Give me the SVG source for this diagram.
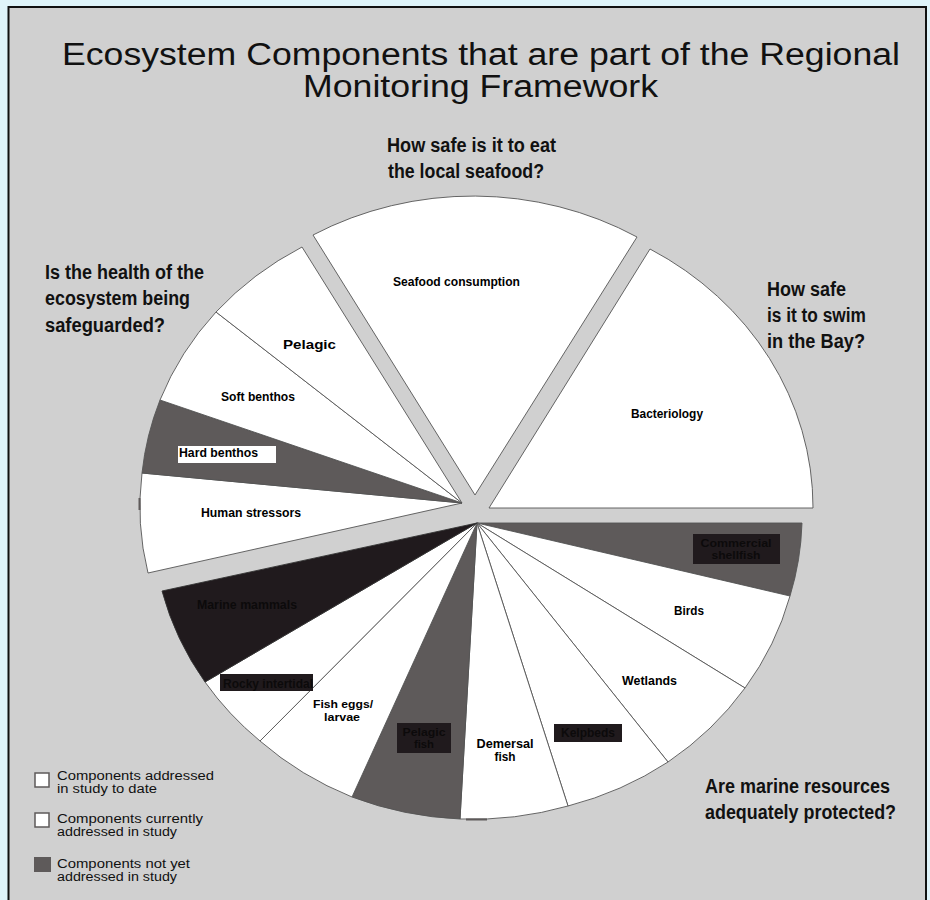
<svg xmlns="http://www.w3.org/2000/svg" width="930" height="900" viewBox="0 0 930 900">
  <defs>
    <style>
      .title { font-family: "Liberation Sans", Arial, sans-serif; font-size: 31px; fill: #111; }
      .q { font-family: "Liberation Sans", Arial, sans-serif; font-size: 19.5px; font-weight: bold; fill: #111; }
      .lbl { font-family: "Liberation Sans", Arial, sans-serif; font-size: 12.5px; font-weight: bold; fill: #000; }
      .lbl-dark { font-family: "Liberation Sans", Arial, sans-serif; font-size: 12.5px; font-weight: bold; fill: #0c0a0b; }
      .two { font-size: 11.5px; }
      .leg { font-family: "Liberation Sans", Arial, sans-serif; font-size: 12px; fill: #111; }
      .w { fill: #ffffff; stroke: #555; stroke-width: 0.9; }
      .g { fill: #5e5a5a; stroke: #555; stroke-width: 0.9; }
      .k { fill: #201a1d; stroke: #333; stroke-width: 0.9; }
      .tag { fill: #201a1d; }
    </style>
  </defs>

  <!-- page and panel -->
  <rect x="0" y="0" width="930" height="900" fill="#dff4fa"/>
  <rect x="8.5" y="7" width="917.5" height="900" fill="#d0d0d0" stroke="#111" stroke-width="2"/>

  <!-- title -->
  <g id="title">
    <text class="title" x="62" y="65" textLength="838" lengthAdjust="spacingAndGlyphs">Ecosystem Components that are part of the Regional</text>
    <text class="title" x="303" y="97" textLength="355" lengthAdjust="spacingAndGlyphs">Monitoring Framework</text>
  </g>

  <!-- questions -->
  <g id="q-seafood">
    <text class="q" x="387" y="152" textLength="169" lengthAdjust="spacingAndGlyphs">How safe is it to eat</text>
    <text class="q" x="388" y="178" textLength="156" lengthAdjust="spacingAndGlyphs">the local seafood?</text>
  </g>
  <g id="q-health">
    <text class="q" x="45" y="279" textLength="159" lengthAdjust="spacingAndGlyphs">Is the health of the</text>
    <text class="q" x="45" y="305" textLength="145" lengthAdjust="spacingAndGlyphs">ecosystem being</text>
    <text class="q" x="45" y="332" textLength="120" lengthAdjust="spacingAndGlyphs">safeguarded?</text>
  </g>
  <g id="q-swim">
    <text class="q" x="767" y="296" textLength="79" lengthAdjust="spacingAndGlyphs">How safe</text>
    <text class="q" x="767" y="322" textLength="99" lengthAdjust="spacingAndGlyphs">is it to swim</text>
    <text class="q" x="767" y="348" textLength="98" lengthAdjust="spacingAndGlyphs">in the Bay?</text>
  </g>
  <g id="q-resources">
    <text class="q" x="705" y="793" textLength="185" lengthAdjust="spacingAndGlyphs">Are marine resources</text>
    <text class="q" x="705" y="819" textLength="191" lengthAdjust="spacingAndGlyphs">adequately protected?</text>
  </g>

  <!-- ecosystem health sectors (apex 462,503) -->
  <g id="human-stressors">
    <path class="w" d="M462,503 L148,573 A324,298 0 0 1 142,473 Z"/>
    <text class="lbl" x="201" y="517" textLength="100" lengthAdjust="spacingAndGlyphs">Human stressors</text>
  </g>
  <g id="hard-benthos">
    <path class="g" d="M462,503 L142,473 A324,298 0 0 1 160,400 Z"/>
    <rect x="178" y="446" width="98" height="17" fill="#ffffff"/>
    <text class="lbl" x="179" y="457" textLength="79" lengthAdjust="spacingAndGlyphs">Hard benthos</text>
  </g>
  <g id="soft-benthos">
    <path class="w" d="M462,503 L160,400 A324,298 0 0 1 216,312 Z"/>
    <text class="lbl" x="221" y="401" textLength="74" lengthAdjust="spacingAndGlyphs">Soft benthos</text>
  </g>
  <g id="pelagic">
    <path class="w" d="M462,503 L216,312 A324,298 0 0 1 302,247 Z"/>
    <text class="lbl" x="283" y="349" font-size="13.5" textLength="53" lengthAdjust="spacingAndGlyphs">Pelagic</text>
  </g>

  <!-- seafood sector (apex 475,495) -->
  <g id="seafood-consumption">
    <path class="w" d="M475,495 L313,235 A324,298 0 0 1 637,237 Z"/>
    <text class="lbl" x="393" y="286" textLength="127" lengthAdjust="spacingAndGlyphs">Seafood consumption</text>
  </g>

  <!-- swimming sector (apex 489,508) -->
  <g id="bacteriology">
    <path class="w" d="M489,508 L650,249 A324,298 0 0 1 813,508 Z"/>
    <text class="lbl" x="631" y="418" textLength="72" lengthAdjust="spacingAndGlyphs">Bacteriology</text>
  </g>

  <!-- marine resources sectors (apex 477,523) -->
  <g id="commercial-shellfish">
    <path class="g" d="M477,523 L802,523 A324,298 0 0 1 790,596 Z"/>
    <rect class="tag" x="693" y="534" width="87" height="30"/>
    <text class="lbl-dark two" x="736" y="547" text-anchor="middle" textLength="71" lengthAdjust="spacingAndGlyphs">Commercial</text>
    <text class="lbl-dark two" x="736" y="559" text-anchor="middle" textLength="49" lengthAdjust="spacingAndGlyphs">shellfish</text>
  </g>
  <g id="birds">
    <path class="w" d="M477,523 L790,596 A324,298 0 0 1 745,688 Z"/>
    <text class="lbl" x="674" y="615" textLength="30" lengthAdjust="spacingAndGlyphs">Birds</text>
  </g>
  <g id="wetlands">
    <path class="w" d="M477,523 L745,688 A324,298 0 0 1 668,762 Z"/>
    <text class="lbl" x="622" y="685" textLength="55" lengthAdjust="spacingAndGlyphs">Wetlands</text>
  </g>
  <g id="kelpbeds">
    <path class="w" d="M477,523 L668,762 A324,298 0 0 1 568,806 Z"/>
    <rect class="tag" x="554" y="724" width="68" height="18"/>
    <text class="lbl-dark" x="588" y="737" text-anchor="middle" textLength="54" lengthAdjust="spacingAndGlyphs">Kelpbeds</text>
  </g>
  <g id="demersal-fish">
    <path class="w" d="M477,523 L568,806 A324,298 0 0 1 460,819 Z"/>
    <text class="lbl" x="505" y="748" text-anchor="middle" textLength="57" lengthAdjust="spacingAndGlyphs">Demersal</text>
    <text class="lbl" x="505" y="761" text-anchor="middle" textLength="21" lengthAdjust="spacingAndGlyphs">fish</text>
  </g>
  <g id="pelagic-fish">
    <path class="g" d="M477,523 L460,819 A324,298 0 0 1 352,797 Z"/>
    <rect class="tag" x="397" y="723" width="54" height="30"/>
    <text class="lbl-dark two" x="424" y="736" text-anchor="middle" textLength="43" lengthAdjust="spacingAndGlyphs">Pelagic</text>
    <text class="lbl-dark two" x="424" y="748" text-anchor="middle" textLength="20" lengthAdjust="spacingAndGlyphs">fish</text>
  </g>
  <g id="fish-eggs-larvae">
    <path class="w" d="M477,523 L352,797 A324,298 0 0 1 260,741 Z"/>
    <text class="lbl two" x="343" y="708" text-anchor="middle" textLength="60" lengthAdjust="spacingAndGlyphs">Fish eggs/</text>
    <text class="lbl two" x="342" y="721" text-anchor="middle" textLength="36" lengthAdjust="spacingAndGlyphs">larvae</text>
  </g>
  <g id="rocky-intertidal">
    <path class="w" d="M477,523 L260,741 A324,298 0 0 1 205,682 Z"/>
    <rect class="tag" x="220" y="674" width="93" height="17"/>
    <text class="lbl-dark" x="223" y="688" textLength="90" lengthAdjust="spacingAndGlyphs">Rocky intertidal</text>
  </g>
  <g id="marine-mammals">
    <path class="k" d="M477,523 L205,682 A324,298 0 0 1 162,591 Z"/>
    <text class="lbl-dark" x="197" y="609" textLength="100" lengthAdjust="spacingAndGlyphs">Marine mammals</text>
  </g>

  <!-- small rim marks -->
  <g id="rim-marks" stroke="#5e5a5a" stroke-width="2" fill="none">
    <path d="M139.5,498 L139.5,510"/>
    <path d="M466,819.5 L487,819.5"/>
  </g>

  <!-- legend -->
  <g id="legend">
    <rect x="35" y="773" width="14" height="14" fill="#ffffff" stroke="#5e5a5a" stroke-width="1.5"/>
    <text class="leg" x="57" y="780" textLength="157" lengthAdjust="spacingAndGlyphs">Components addressed</text>
    <text class="leg" x="57" y="793" textLength="100" lengthAdjust="spacingAndGlyphs">in study to date</text>
    <rect x="35" y="813" width="14" height="14" fill="#ffffff" stroke="#5e5a5a" stroke-width="1.5"/>
    <text class="leg" x="57" y="823" textLength="146" lengthAdjust="spacingAndGlyphs">Components currently</text>
    <text class="leg" x="57" y="836" textLength="120" lengthAdjust="spacingAndGlyphs">addressed in study</text>
    <rect x="34" y="857" width="17" height="15" fill="#5e5a5a"/>
    <text class="leg" x="57" y="868" textLength="133" lengthAdjust="spacingAndGlyphs">Components not yet</text>
    <text class="leg" x="57" y="881" textLength="120" lengthAdjust="spacingAndGlyphs">addressed in study</text>
  </g>
</svg>
